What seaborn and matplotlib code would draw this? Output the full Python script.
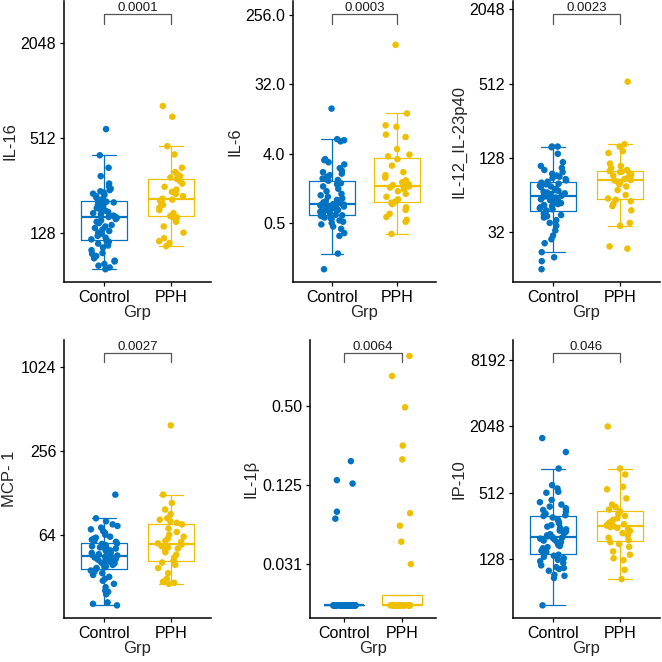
import numpy as np
import pandas as pd
import seaborn as sns
import matplotlib.pyplot as plt
from matplotlib.ticker import FixedLocator, FixedFormatter, NullLocator

sns.set_style('ticks')
plt.rcParams['font.family'] = ['Liberation Sans', 'DejaVu Sans']

groups = ['Control', 'PPH']
palette = {'Control': '#0073C2', 'PPH': '#EFC000'}

# ---- data (one list per group per cytokine) ----
il16_ctrl = [75, 77, 79, 81, 84, 85, 88, 91, 94, 95, 99, 103, 106, 109, 112, 114,
             116, 119, 122, 126, 128, 131, 134, 137, 140, 143, 147, 150, 153, 156, 159, 161,
             162, 164, 167, 170, 173, 176, 180, 183, 186, 189, 192, 195, 197, 199, 201, 203,
             206, 210, 214, 218, 222, 226, 230, 234, 238, 243, 250, 262, 292, 330, 396, 580]
il16_pph = [105, 110, 113, 118, 128, 140, 150, 158, 160, 163, 170, 178, 185, 192, 198, 203,
            206, 207, 210, 218, 225, 232, 240, 250, 262, 272, 280, 286, 292, 300, 310, 330,
            401, 452, 695, 813]

il6_ctrl = [0.125, 0.2, 0.34, 0.37, 0.42, 0.45, 0.48, 0.5, 0.52, 0.54, 0.56, 0.58, 0.59, 0.6, 0.62, 0.63,
            0.64, 0.66, 0.68, 0.7, 0.72, 0.74, 0.76, 0.77, 0.79, 0.8, 0.82, 0.83, 0.84, 0.85, 0.86, 0.87,
            0.88, 0.9, 0.93, 0.96, 1.0, 1.05, 1.1, 1.15, 1.2, 1.3, 1.4, 1.5, 1.6, 1.65, 1.72, 1.78,
            1.82, 1.9, 2.0, 2.1, 2.2, 2.3, 2.4, 2.6, 2.9, 3.1, 3.3, 3.4, 5.8, 6.0, 6.2, 15.5]
il6_pph = [0.36, 0.52, 0.55, 0.6, 0.66, 0.74, 0.8, 0.88, 0.92, 0.95, 1.02, 1.1, 1.2, 1.3, 1.38, 1.45,
           1.5, 1.52, 1.56, 1.6, 1.7, 1.8, 1.95, 2.1, 2.3, 2.8, 3.4, 3.7, 3.9, 4.6, 6.6, 7.1,
           9.0, 9.4, 13.4, 105]

il12_ctrl = [16, 18.6, 20, 22, 26, 28, 30, 33, 36, 38, 40, 42, 43, 44, 45, 46.5,
             48, 49, 50, 51, 52, 53, 54, 55, 56, 57, 58, 59, 60, 60.5, 61, 62,
             62.5, 63, 64, 65, 66, 67, 68, 69, 70, 72, 74, 75, 76, 78, 79, 80.5,
             82, 84, 86, 88, 90, 92, 95, 98, 102, 106, 110, 118, 138, 156, 158, 158]
il12_pph = [23.5, 24.5, 36, 38, 48, 52, 54, 57, 58.5, 60, 64, 70, 75, 78, 80, 82,
            84, 84.5, 86, 88, 90, 92, 94, 96, 98, 99, 100, 102, 106, 110, 115, 140,
            145, 158, 165, 530]

mcp1_ctrl = [20, 20.5, 21, 24, 25, 25.5, 27, 28.5, 30, 31, 32, 33, 34, 34.5, 35, 35.5,
             36.5, 37, 37.5, 38, 39, 39.5, 40, 40.5, 41, 41.5, 42, 42.5, 43, 43.5, 44, 44.5,
             45.5, 46, 46.5, 47, 47.5, 48, 49, 49.5, 50, 51, 52, 52.5, 53, 54, 55, 55.5,
             57, 58, 59, 60, 61, 62, 64, 66, 68, 70, 72, 74, 76, 80, 84, 124]
mcp1_pph = [28.5, 29, 29.5, 30, 31, 34, 37, 39, 40.5, 42, 44, 46, 48, 50, 51, 52,
            53, 54.5, 55.5, 57, 58, 60, 62, 64, 67, 71, 76, 78, 80, 82, 84, 90,
            97, 108, 124, 388]

il1b_ctrl = [0.015, 0.015, 0.015, 0.015, 0.015, 0.015, 0.015, 0.015, 0.015, 0.015,
             0.015, 0.015, 0.015, 0.015, 0.015, 0.015, 0.015, 0.015, 0.015, 0.015,
             0.015, 0.015, 0.015, 0.015, 0.015, 0.015, 0.015, 0.015, 0.015, 0.015,
             0.015, 0.015, 0.015, 0.015, 0.015, 0.015, 0.015, 0.015, 0.015, 0.015,
             0.015, 0.015, 0.015, 0.015, 0.015, 0.015, 0.015, 0.015, 0.015, 0.015,
             0.015, 0.015, 0.015, 0.015, 0.015, 0.015, 0.015, 0.015, 0.015,
             0.069, 0.078, 0.128, 0.136, 0.19]
il1b_pph = [0.015, 0.015, 0.015, 0.015, 0.015, 0.015, 0.015, 0.015, 0.015, 0.015,
            0.015, 0.015, 0.015, 0.015, 0.015, 0.015, 0.015, 0.015, 0.015, 0.015,
            0.015, 0.015, 0.015, 0.015, 0.015, 0.015, 0.015,
            0.031, 0.046, 0.061, 0.076, 0.196, 0.25, 0.49, 0.85, 1.21]

ip10_ctrl = [48.5, 86, 90, 92, 100, 104, 106, 108, 112, 118, 122, 126, 130, 134, 137, 140,
             144, 148, 152, 156, 160, 164, 168, 172, 176, 180, 184, 188, 192, 196, 199, 201,
             203, 206, 210, 215, 220, 226, 232, 238, 245, 252, 260, 270, 280, 292, 305, 315,
             320, 330, 345, 357, 370, 383, 400, 420, 440, 512, 523, 560, 600, 850, 1200, 1607]
ip10_pph = [84, 102, 125, 130, 140, 150, 165, 175, 182, 190, 200, 210, 220, 230, 238, 245,
            250, 254, 258, 265, 272, 280, 290, 300, 315, 330, 348, 360, 380, 400, 455, 550,
            580, 750, 850, 2048]

markers = ['IL-16', 'IL-6', 'IL-12_IL-23p40', 'MCP- 1', 'IL-1β', 'IP-10']
ctrl_values = [il16_ctrl, il6_ctrl, il12_ctrl, mcp1_ctrl, il1b_ctrl, ip10_ctrl]
pph_values = [il16_pph, il6_pph, il12_pph, mcp1_pph, il1b_pph, ip10_pph]
p_labels = ['0.0001', '0.0003', '0.0023', '0.0027', '0.0064', '0.046']

tick_values = [[128, 512, 2048],
               [0.5, 4, 32, 256],
               [32, 128, 512, 2048],
               [64, 256, 1024],
               [0.03125, 0.125, 0.5],
               [128, 512, 2048, 8192]]
tick_labels = [['128', '512', '2048'],
               ['0.5', '4.0', '32.0', '256.0'],
               ['32', '128', '512', '2048'],
               ['64', '256', '1024'],
               ['0.031', '0.125', '0.50'],
               ['128', '512', '2048', '8192']]

# layout: bracket level (log2) and panel boxes in pixels (left, right, top, bottom)
bracket_log2 = [11.61, 8.06, 10.88, 10.33, 0.36, 13.23]
panel_px = [(64, 211, 1, 282), (293, 436, 1, 282), (513, 660, 1, 282),
            (64, 211, 340, 618), (310, 436, 340, 618), (513, 660, 340, 618)]

W = 662
fig = plt.figure(figsize=(W / 100, W / 100), dpi=100)
np.random.seed(3)

for i, name in enumerate(markers):
    l, r, t, b = panel_px[i]
    ax = fig.add_axes([l / W, 1 - b / W, (r - l) / W, (b - t) / W])

    df = pd.DataFrame({
        'Grp': ['Control'] * len(ctrl_values[i]) + ['PPH'] * len(pph_values[i]),
        'value': ctrl_values[i] + pph_values[i],
    })

    sns.boxplot(data=df, x='Grp', y='value', hue='Grp', palette=palette,
                order=groups, fill=False, width=0.7, showfliers=False,
                linewidth=0.9, log_scale=2, legend=False, ax=ax,
                medianprops={'linewidth': 1.6})
    sns.stripplot(data=df, x='Grp', y='value', hue='Grp', palette=palette,
                  order=groups, jitter=0.2, size=4.7, linewidth=0,
                  legend=False, ax=ax, zorder=3)

    lo = np.log2(df['value'].min())
    hi = bracket_log2[i]
    pad = (hi - lo) * 0.05
    ax.set_ylim(2 ** (lo - pad), 2 ** (hi + pad))
    ax.set_xlim(-0.6, 1.6)

    # significance bracket
    tip = (hi - lo + 2 * pad) * 0.035
    ax.plot([0, 0, 1, 1], [2 ** (hi - tip), 2 ** hi, 2 ** hi, 2 ** (hi - tip)],
            color='#555555', linewidth=0.9, clip_on=False, zorder=4)
    ax.text(0.5, 2 ** (hi + tip * 0.3), p_labels[i], ha='center', va='baseline',
            fontsize=9.5, color='#1a1a1a', clip_on=False)

    ax.yaxis.set_major_locator(FixedLocator(tick_values[i]))
    ax.yaxis.set_major_formatter(FixedFormatter(tick_labels[i]))
    ax.yaxis.set_minor_locator(NullLocator())

    ax.set_ylabel(name, fontsize=12, labelpad=2.5)
    ax.set_xlabel('Grp', fontsize=12, labelpad=0)
    ax.tick_params(axis='both', labelsize=11.5, length=3, width=0.9,
                   color='black', labelcolor='black', pad=2.5)
    for side in ['top', 'right']:
        ax.spines[side].set_visible(False)
    for side in ['left', 'bottom']:
        ax.spines[side].set_linewidth(1.1)
        ax.spines[side].set_color('black')

fig.savefig('out.png', dpi=100)
plt.close('all')
